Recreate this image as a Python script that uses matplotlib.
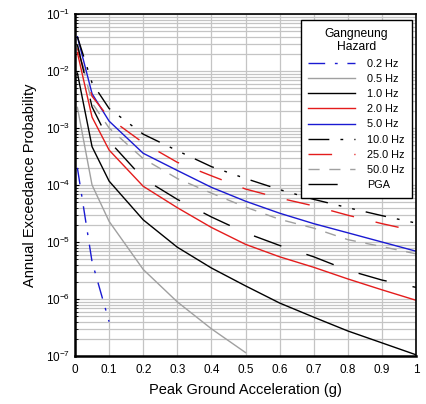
import matplotlib
matplotlib.use("Agg")
import matplotlib.pyplot as plt
from matplotlib.ticker import LogLocator, NullFormatter

plt.rcParams['font.family'] = ['Liberation Sans', 'DejaVu Sans']
plt.rcParams['mathtext.fontset'] = 'custom'
plt.rcParams['mathtext.rm'] = 'Liberation Sans'
plt.rcParams['mathtext.it'] = 'Liberation Sans'

# ---- data (annual exceedance probability vs PGA in g) ----
x_full = [0.007, 0.05, 0.1, 0.2, 0.3, 0.4, 0.5, 0.6, 0.7, 0.8, 0.9, 1.0]
x_02 = [0.007, 0.05, 0.1]
x_05 = [0.007, 0.05, 0.1, 0.2, 0.3, 0.4, 0.5]

hz_02 = [2.0e-4, 4.5e-6, 4.0e-7]
hz_05 = [2.3e-3, 1.0e-4, 2.3e-5, 3.3e-6, 8.9e-7, 3.0e-7, 1.15e-7]
hz_10 = [9.2e-3, 4.7e-4, 1.17e-4, 2.45e-5, 8.1e-6, 3.5e-6, 1.7e-6, 8.5e-7, 4.8e-7, 2.75e-7, 1.7e-7, 1.05e-7]
hz_20 = [2.1e-2, 1.55e-3, 4.1e-4, 9.5e-5, 4.0e-5, 1.8e-5, 9.1e-6, 5.5e-6, 3.6e-6, 2.25e-6, 1.45e-6, 9.5e-7]
hz_50 = [4.0e-2, 4.0e-3, 1.32e-3, 3.6e-4, 1.8e-4, 9.1e-5, 5.2e-5, 3.2e-5, 2.1e-5, 1.45e-5, 1.0e-5, 6.9e-6]
hz_100 = [4.0e-2, 6.2e-3, 2.2e-3, 7.8e-4, 4.0e-4, 2.1e-4, 1.3e-4, 8.3e-5, 5.6e-5, 4.0e-5, 2.9e-5, 2.15e-5]
hz_250 = [2.5e-2, 3.6e-3, 1.5e-3, 5.5e-4, 2.5e-4, 1.45e-4, 8.5e-5, 5.9e-5, 4.3e-5, 2.95e-5, 2.1e-5, 1.55e-5]
hz_500 = [2.9e-2, 2.75e-3, 1.0e-3, 2.9e-4, 1.3e-4, 7.2e-5, 4.1e-5, 2.5e-5, 1.75e-5, 1.1e-5, 8.3e-6, 6.2e-6]
pga = [2.9e-2, 2.35e-3, 5.9e-4, 1.3e-4, 5.6e-5, 2.75e-5, 1.45e-5, 8.7e-6, 5.5e-6, 3.2e-6, 2.15e-6, 1.6e-6]

labels = ['0.2 Hz', '0.5 Hz', '1.0 Hz', '2.0 Hz', '5.0 Hz', '10.0 Hz', '25.0 Hz', '50.0 Hz', 'PGA']
x_ticks = [0, 0.1, 0.2, 0.3, 0.4, 0.5, 0.6, 0.7, 0.8, 0.9, 1]
x_ticklabels = ['0', '0.1', '0.2', '0.3', '0.4', '0.5', '0.6', '0.7', '0.8', '0.9', '1']

BLUE = '#1a1ad2'
RED = '#e41c1c'
GRAY = '#a0a0a0'

fig = plt.figure(figsize=(4.26, 4.04), dpi=100)
ax = fig.add_axes([75/426, 1-356/404, (416-75)/426, (356-14)/404])

lw = 1.0
series = [
    (x_02, hz_02, dict(color=BLUE, dashes=(12, 7, 2, 7))),
    (x_05, hz_05, dict(color=GRAY)),
    (x_full, hz_10, dict(color='black')),
    (x_full, hz_20, dict(color=RED)),
    (x_full, hz_50, dict(color=BLUE)),
    (x_full, hz_100, dict(color='black', dashes=(15, 8, 2, 8, 2, 8))),
    (x_full, hz_250, dict(color=RED, dashes=(17, 16))),
    (x_full, hz_500, dict(color=GRAY, dashes=(8, 7))),
    (x_full, pga, dict(color='black', dashes=(21, 19))),
]
for (xs, ys, st), lab in zip(series, labels):
    ax.plot(xs, ys, lw=lw, label=lab, **st)

ax.set_yscale('log')
ax.set_xlim(0, 1)
ax.set_ylim(1e-7, 1e-1)
ax.set_xticks(x_ticks)
ax.set_xticklabels(x_ticklabels)
ax.yaxis.set_major_locator(LogLocator(base=10, numticks=10))
ax.yaxis.set_minor_locator(LogLocator(base=10, subs=range(2, 10), numticks=100))
ax.yaxis.set_minor_formatter(NullFormatter())

ax.grid(True, which='major', color='#c4c4c4', lw=0.9)
ax.grid(True, which='minor', axis='y', color='#c4c4c4', lw=0.9)
ax.set_axisbelow(True)

ax.tick_params(axis='both', which='major', labelsize=8.5, direction='in', length=3, color='black')
ax.tick_params(axis='y', which='minor', direction='in', length=2)
ax.tick_params(axis='x', which='major', length=0, pad=6)
for side in ['left', 'bottom']:
    ax.spines[side].set_linewidth(1.8)
for side in ['top', 'right']:
    ax.spines[side].set_linewidth(1.2)

ax.set_xlabel('Peak Ground Acceleration (g)', fontsize=10.5, labelpad=5)
ax.set_ylabel('Annual Exceedance Probability', fontsize=10.5, labelpad=6)

leg = ax.legend(loc='upper right', bbox_to_anchor=(412/426, 1-20/404), bbox_transform=fig.transFigure,
                title='Gangneung\nHazard', title_fontsize=8.7, fontsize=7.8,
                frameon=True, fancybox=False, edgecolor='black', framealpha=1,
                handlelength=4.3, handletextpad=1.1, labelspacing=0.48, borderpad=0.7,
                borderaxespad=0)
leg.get_frame().set_linewidth(1.0)
leg.get_title().set_multialignment('center')

fig.savefig('out.png', dpi=100)
